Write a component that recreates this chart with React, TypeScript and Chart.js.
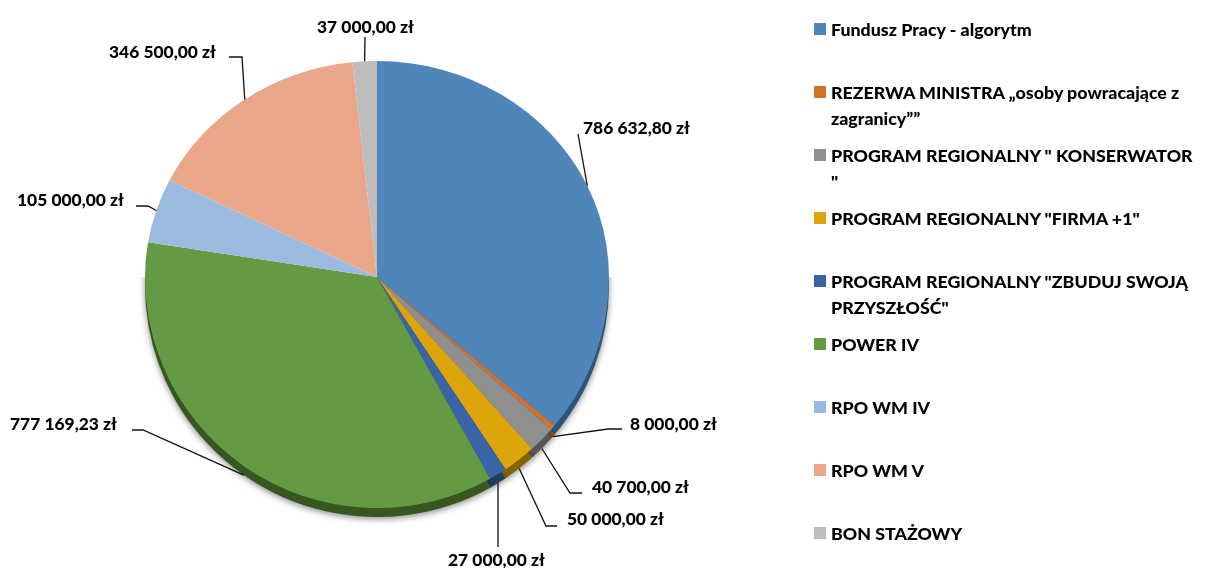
import React, { useEffect, useRef } from "react";
import { Chart, registerables } from "chart.js";

Chart.register(...registerables);

const categories = [
  "Fundusz Pracy - algorytm",
  "REZERWA MINISTRA „osoby powracające z\nzagranicy””",
  'PROGRAM REGIONALNY " KONSERWATOR\n"',
  'PROGRAM REGIONALNY "FIRMA +1"',
  'PROGRAM REGIONALNY "ZBUDUJ SWOJĄ\nPRZYSZŁOŚĆ"',
  "POWER IV",
  "RPO WM IV",
  "RPO WM V",
  "BON STAŻOWY",
];
const values = [786632.8, 8000, 40700, 50000, 27000, 777169.23, 105000, 346500, 37000];
const valueLabels = [
  "786 632,80 zł",
  "8 000,00 zł",
  "40 700,00 zł",
  "50 000,00 zł",
  "27 000,00 zł",
  "777 169,23 zł",
  "105 000,00 zł",
  "346 500,00 zł",
  "37 000,00 zł",
];
const colors = ["#4F85B8", "#D2702C", "#8F8F8F", "#DDA50A", "#3A64A8", "#659A45", "#9ABBDF", "#EAA688", "#BDBDBD"];
const rimColors = ["#2F5478", "#7E431A", "#565656", "#856306", "#233C65", "#38561F", "#5C7086", "#8C6452", "#717171"];

// Where each value label sits: text left edge, text middle, and the leader's start and elbow.
const labelLayout = [
  { x: 583, y: 128, from: [578, 134], elbow: [578, 134] },
  { x: 630, y: 424, from: [622, 429], elbow: [608, 429] },
  { x: 592, y: 487, from: [582, 493], elbow: [570, 493] },
  { x: 567, y: 519, from: [557, 526], elbow: [546, 526] },
  { x: 448, y: 560, from: [498, 547], elbow: [498, 547] },
  { x: 10, y: 424, from: [132, 430], elbow: [143, 430] },
  { x: 17, y: 200, from: [136, 206], elbow: [148, 206] },
  { x: 109, y: 52, from: [229, 57], elbow: [242, 57] },
  { x: 317, y: 27, from: [365, 37], elbow: [365, 37] },
];

const FONT = "Lato, sans-serif";
const TOP_SCALE = 216 / 232;
const BOTTOM_SCALE = 231 / 232;
const RIM_DEPTH = 9;

const tiltPlugin = {
  id: "tilt",
  beforeDatasetDraw(chart: any, args: any) {
    const { ctx, width, height } = chart;
    const meta = args.meta;
    const first = meta.data[0];
    const cx = first.x;
    const cy = first.y;

    // Side wall and soft shadow under the pie
    ctx.save();
    ctx.beginPath();
    ctx.rect(0, cy, width, height);
    ctx.clip();
    ctx.translate(0, cy + RIM_DEPTH);
    ctx.scale(1, BOTTOM_SCALE);
    ctx.shadowColor = "rgba(0,0,0,0.45)";
    ctx.shadowBlur = 6;
    ctx.shadowOffsetY = 2;
    meta.data.forEach((arc: any, i: number) => {
      ctx.fillStyle = rimColors[i];
      ctx.beginPath();
      ctx.moveTo(cx, 0);
      ctx.arc(cx, 0, arc.outerRadius, arc.startAngle, arc.endAngle);
      ctx.closePath();
      ctx.fill();
    });
    ctx.restore();

    // Upper half of the face
    ctx.save();
    ctx.beginPath();
    ctx.rect(0, 0, width, cy + 0.5);
    ctx.clip();
    ctx.translate(0, cy);
    ctx.scale(1, TOP_SCALE);
    ctx.translate(0, -cy);
    meta.controller.draw();
    ctx.restore();

    // Lower half of the face
    ctx.save();
    ctx.beginPath();
    ctx.rect(0, cy, width, height - cy);
    ctx.clip();
    ctx.translate(0, cy);
    ctx.scale(1, BOTTOM_SCALE);
    ctx.translate(0, -cy);
    meta.controller.draw();
    ctx.restore();
    return false;
  },
  afterDraw(chart: any) {
    const { ctx } = chart;
    const meta = chart.getDatasetMeta(0);
    ctx.save();
    ctx.lineWidth = 1.3;
    ctx.strokeStyle = "#111";
    meta.data.forEach((arc: any, i: number) => {
      const mid = (arc.startAngle + arc.endAngle) / 2;
      const s = Math.sin(mid);
      const px = arc.x + arc.outerRadius * Math.cos(mid);
      const py = s > 0
        ? arc.y + arc.outerRadius * BOTTOM_SCALE * s + (s > 0.5 ? RIM_DEPTH : 0)
        : arc.y + arc.outerRadius * TOP_SCALE * s;
      const l = labelLayout[i];
      ctx.beginPath();
      ctx.moveTo(l.from[0], l.from[1]);
      ctx.lineTo(l.elbow[0], l.elbow[1]);
      ctx.lineTo(px, py);
      ctx.stroke();
      ctx.fillStyle = "#000";
      ctx.font = `900 17.4px ${FONT}`;
      ctx.textAlign = "left";
      ctx.textBaseline = "middle";
      ctx.fillText(valueLabels[i], l.x, l.y);
    });
    ctx.restore();
  },
};

export default function App() {
  const ref = useRef<HTMLCanvasElement | null>(null);

  useEffect(() => {
    document.body.style.margin = "0";
    const chart = new Chart(ref.current as HTMLCanvasElement, {
      type: "pie",
      data: {
        labels: categories,
        datasets: [{ data: values, backgroundColor: colors, borderWidth: 0 }],
      },
      options: {
        responsive: false,
        animation: false,
        layout: { padding: { left: 145, right: 602, top: 45, bottom: 59 } },
        plugins: { legend: { display: false }, tooltip: { enabled: false } },
      },
      plugins: [tiltPlugin],
    } as any);
    return () => chart.destroy();
  }, []);

  return (
    <div style={{ position: "relative", width: 1211, height: 568, overflow: "hidden", background: "#fff" }}>
      <canvas ref={ref} width={1211} height={568} style={{ display: "block" }} />
      {categories.map((c, i) => (
        <div key={c} style={{ position: "absolute", left: 0, top: 0 }}>
          <span
            style={{
              position: "absolute",
              left: 814,
              top: 23 + i * 63,
              width: 12,
              height: 12,
              background: colors[i],
            }}
          />
          <span
            style={{
              position: "absolute",
              left: 831,
              top: 16 + i * 63,
              width: 380,
              font: `900 17.8px/26px ${FONT}`,
              color: "#000",
              whiteSpace: "pre",
            }}
          >
            {c}
          </span>
        </div>
      ))}
    </div>
  );
}
